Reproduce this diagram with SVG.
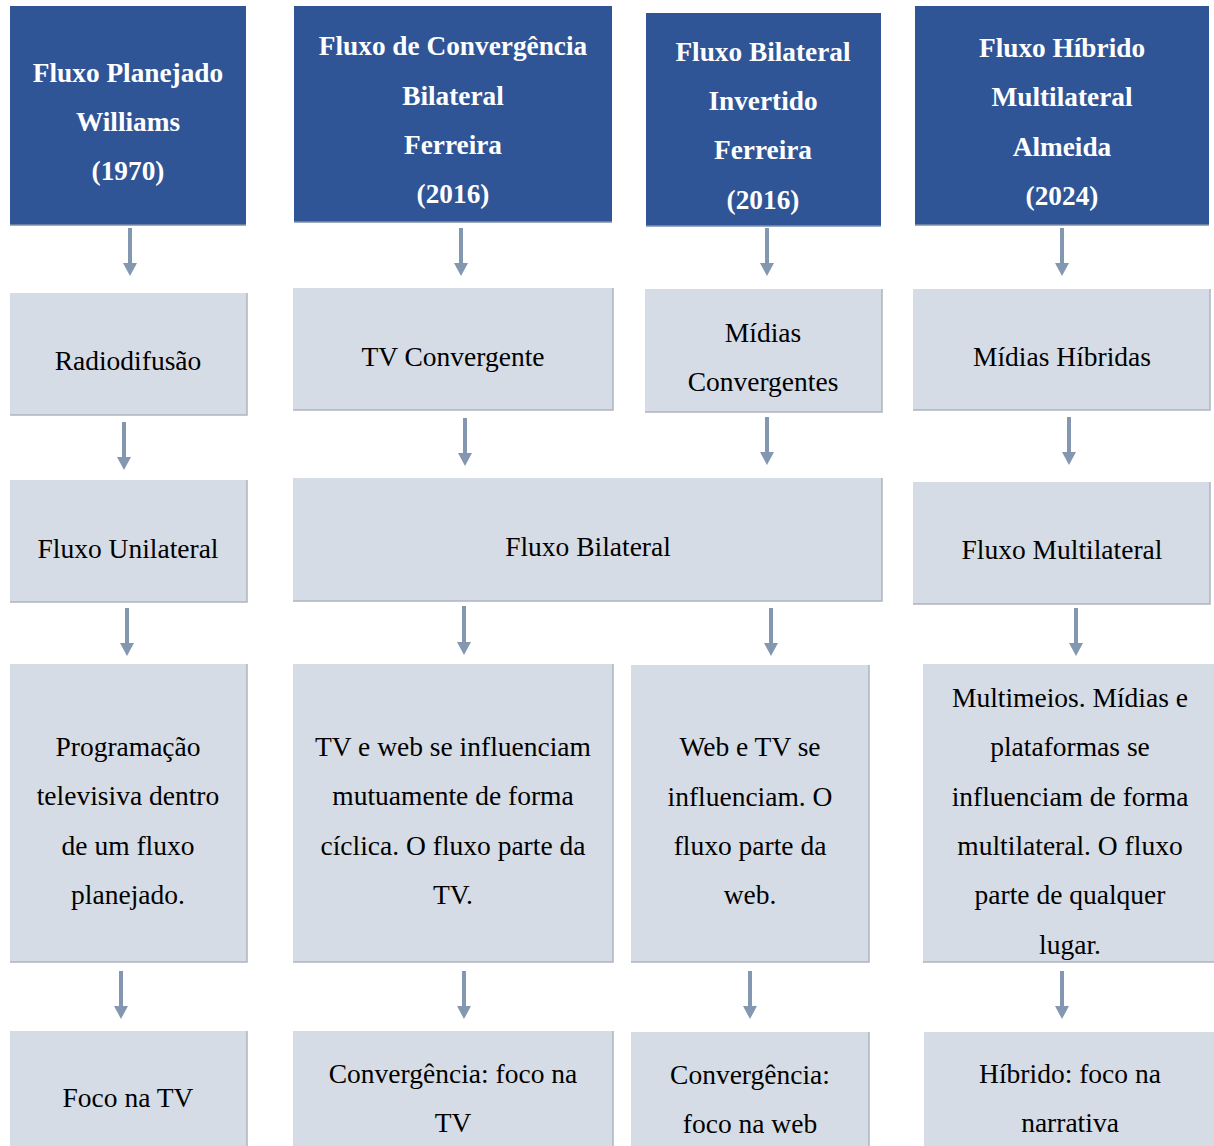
<svg xmlns="http://www.w3.org/2000/svg" width="1214" height="1146" viewBox="0 0 1214 1146">
<defs>
<style>
.hd{fill:#2f5597}
.hdE{fill:none;stroke:#7f8fa9;stroke-width:1.5}
.bx{fill:#d6dce5}
.bxE{fill:none;stroke:#aeb4bd;stroke-width:1.5}
.th{font-family:"Liberation Serif","Times New Roman",serif;font-weight:bold;font-size:27.3px;fill:#ffffff;text-anchor:middle;dominant-baseline:central}
.tb{font-family:"Liberation Serif","Times New Roman",serif;font-size:27.5px;fill:#000000;text-anchor:middle;dominant-baseline:central}
.ar{stroke:#8497b0;stroke-width:4;fill:none}
.ah{fill:#8497b0}
</style>
</defs>
<rect width="1214" height="1146" fill="#ffffff"/>

<g id="connectors">
<g class="ar">
<line x1="130" y1="228" x2="130" y2="263"/>
<line x1="461" y1="228" x2="461" y2="263"/>
<line x1="767" y1="228" x2="767" y2="263"/>
<line x1="1062" y1="228" x2="1062" y2="263"/>
<line x1="124" y1="422" x2="124" y2="457"/>
<line x1="465" y1="418" x2="465" y2="453"/>
<line x1="767" y1="417" x2="767" y2="452"/>
<line x1="1069" y1="417" x2="1069" y2="452"/>
<line x1="127" y1="608" x2="127" y2="643"/>
<line x1="464" y1="606" x2="464" y2="642"/>
<line x1="771" y1="608" x2="771" y2="643"/>
<line x1="1076" y1="608" x2="1076" y2="643"/>
<line x1="121" y1="971" x2="121" y2="1006"/>
<line x1="464" y1="971" x2="464" y2="1006"/>
<line x1="750" y1="971" x2="750" y2="1006"/>
<line x1="1062" y1="971" x2="1062" y2="1006"/>
</g>
<g class="ah">
<path d="M123,263 L137,263 L130,276 Z"/>
<path d="M454,263 L468,263 L461,276 Z"/>
<path d="M760,263 L774,263 L767,276 Z"/>
<path d="M1055,263 L1069,263 L1062,276 Z"/>
<path d="M117,457 L131,457 L124,470 Z"/>
<path d="M458,453 L472,453 L465,466 Z"/>
<path d="M760,452 L774,452 L767,465 Z"/>
<path d="M1062,452 L1076,452 L1069,465 Z"/>
<path d="M120,643 L134,643 L127,656 Z"/>
<path d="M457,642 L471,642 L464,655 Z"/>
<path d="M764,643 L778,643 L771,656 Z"/>
<path d="M1069,643 L1083,643 L1076,656 Z"/>
<path d="M114,1006 L128,1006 L121,1019 Z"/>
<path d="M457,1006 L471,1006 L464,1019 Z"/>
<path d="M743,1006 L757,1006 L750,1019 Z"/>
<path d="M1055,1006 L1069,1006 L1062,1019 Z"/>
</g>
</g>

<!-- Row 1 headers -->
<g id="h1">
<rect class="hd" x="10" y="6" width="236" height="219"/>
<path class="hdE" d="M10,225 L246,225"/>
<text class="th" x="128" y="73">Fluxo Planejado</text>
<text class="th" x="128" y="122">Williams</text>
<text class="th" x="128" y="171">(1970)</text>
</g>
<g id="h2">
<rect class="hd" x="294" y="6" width="318" height="216"/>
<path class="hdE" d="M294,222 L612,222"/>
<text class="th" x="453" y="46">Fluxo de Convergência</text>
<text class="th" x="453" y="96">Bilateral</text>
<text class="th" x="453" y="145">Ferreira</text>
<text class="th" x="453" y="194">(2016)</text>
</g>
<g id="h3">
<rect class="hd" x="646" y="13" width="235" height="213"/>
<path class="hdE" d="M646,226 L881,226"/>
<text class="th" x="763" y="52">Fluxo Bilateral</text>
<text class="th" x="763" y="101">Invertido</text>
<text class="th" x="763" y="150">Ferreira</text>
<text class="th" x="763" y="200">(2016)</text>
</g>
<g id="h4">
<rect class="hd" x="915" y="6" width="294" height="219"/>
<path class="hdE" d="M915,225 L1209,225"/>
<text class="th" x="1062" y="48">Fluxo Híbrido</text>
<text class="th" x="1062" y="97">Multilateral</text>
<text class="th" x="1062" y="147">Almeida</text>
<text class="th" x="1062" y="196">(2024)</text>
</g>

<!-- Row 2 -->
<g id="r2a">
<rect class="bx" x="10" y="293" width="237" height="122"/>
<path class="bxE" d="M247,293 L247,415 L10,415"/>
<text class="tb" x="128" y="360">Radiodifusão</text>
</g>
<g id="r2b">
<rect class="bx" x="293" y="288" width="320" height="122"/>
<path class="bxE" d="M613,288 L613,410 L293,410"/>
<text class="tb" x="453" y="356">TV Convergente</text>
</g>
<g id="r2c">
<rect class="bx" x="645" y="289" width="237" height="123"/>
<path class="bxE" d="M882,289 L882,412 L645,412"/>
<text class="tb" x="763" y="332">Mídias</text>
<text class="tb" x="763" y="381">Convergentes</text>
</g>
<g id="r2d">
<rect class="bx" x="913" y="289" width="297" height="121"/>
<path class="bxE" d="M1210,289 L1210,410 L913,410"/>
<text class="tb" x="1062" y="356">Mídias Híbridas</text>
</g>

<!-- Row 3 -->
<g id="r3a">
<rect class="bx" x="10" y="480" width="237" height="122"/>
<path class="bxE" d="M247,480 L247,602 L10,602"/>
<text class="tb" x="128" y="548">Fluxo Unilateral</text>
</g>
<g id="r3b">
<rect class="bx" x="293" y="478" width="589" height="123"/>
<path class="bxE" d="M882,478 L882,601 L293,601"/>
<text class="tb" x="588" y="546">Fluxo Bilateral</text>
</g>
<g id="r3c">
<rect class="bx" x="913" y="482" width="297" height="122"/>
<path class="bxE" d="M1210,482 L1210,604 L913,604"/>
<text class="tb" x="1062" y="549">Fluxo Multilateral</text>
</g>

<!-- Row 4 -->
<g id="r4a">
<rect class="bx" x="10" y="664" width="237" height="298"/>
<path class="bxE" d="M247,664 L247,962 L10,962"/>
<text class="tb" x="128" y="746">Programação</text>
<text class="tb" x="128" y="795">televisiva dentro</text>
<text class="tb" x="128" y="845">de um fluxo</text>
<text class="tb" x="128" y="894">planejado.</text>
</g>
<g id="r4b">
<rect class="bx" x="293" y="664" width="320" height="298"/>
<path class="bxE" d="M613,664 L613,962 L293,962"/>
<text class="tb" x="453" y="746">TV e web se influenciam</text>
<text class="tb" x="453" y="795">mutuamente de forma</text>
<text class="tb" x="453" y="845">cíclica. O fluxo parte da</text>
<text class="tb" x="453" y="894">TV.</text>
</g>
<g id="r4c">
<rect class="bx" x="631" y="665" width="238" height="297"/>
<path class="bxE" d="M869,665 L869,962 L631,962"/>
<text class="tb" x="750" y="746">Web e TV se</text>
<text class="tb" x="750" y="796">influenciam. O</text>
<text class="tb" x="750" y="845">fluxo parte da</text>
<text class="tb" x="750" y="894">web.</text>
</g>
<g id="r4d">
<rect class="bx" x="923" y="664" width="291" height="298"/>
<path class="bxE" d="M923,962 L1214,962"/>
<text class="tb" x="1070" y="697">Multimeios. Mídias e</text>
<text class="tb" x="1070" y="746">plataformas se</text>
<text class="tb" x="1070" y="796">influenciam de forma</text>
<text class="tb" x="1070" y="845">multilateral. O fluxo</text>
<text class="tb" x="1070" y="894">parte de qualquer</text>
<text class="tb" x="1070" y="944">lugar.</text>
</g>

<!-- Row 5 -->
<g id="r5a">
<rect class="bx" x="10" y="1031" width="237" height="115"/>
<path class="bxE" d="M247,1031 L247,1146"/>
<text class="tb" x="128" y="1097">Foco na TV</text>
</g>
<g id="r5b">
<rect class="bx" x="293" y="1031" width="320" height="115"/>
<path class="bxE" d="M613,1031 L613,1146"/>
<text class="tb" x="453" y="1073">Convergência: foco na</text>
<text class="tb" x="453" y="1122">TV</text>
</g>
<g id="r5c">
<rect class="bx" x="631" y="1032" width="238" height="114"/>
<path class="bxE" d="M869,1032 L869,1146"/>
<text class="tb" x="750" y="1074">Convergência:</text>
<text class="tb" x="750" y="1123">foco na web</text>
</g>
<g id="r5d">
<rect class="bx" x="924" y="1032" width="290" height="114"/>
<text class="tb" x="1070" y="1073">Híbrido: foco na</text>
<text class="tb" x="1070" y="1122">narrativa</text>
</g>
</svg>
